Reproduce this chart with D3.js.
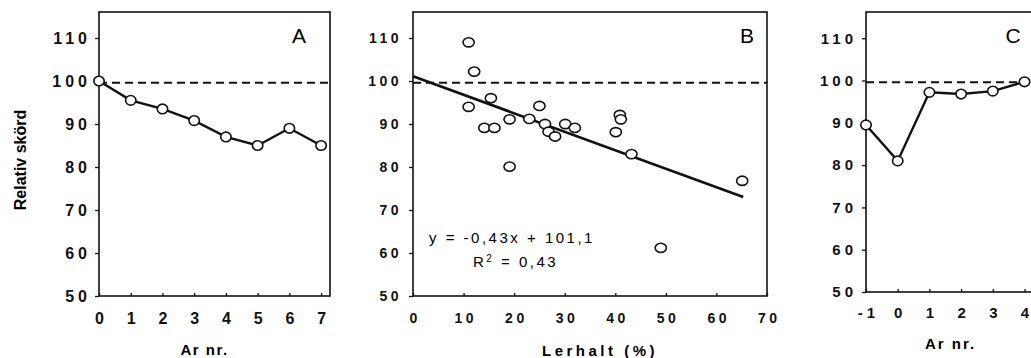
<!DOCTYPE html>
<html>
<head>
<meta charset="utf-8">
<script src="https://cdn.jsdelivr.net/npm/d3@7"></script>
<style>
  body { margin: 0; background: #fff; }
  svg { display: block; font-family: "Liberation Sans", Arial, sans-serif; }
  .tick text { fill: #111; }
</style>
</head>
<body>
<svg id="chart" width="1031" height="358"></svg>
<script>
// Panel A: yield by year
const yearsA = [0, 1, 2, 3, 4, 5, 6, 7];
const yieldA = [100, 95.5, 93.5, 90.8, 87, 85, 89, 85];

// Panel B: yield vs clay content
const clayB = [11, 12.1, 11, 14.1, 15.4, 16.1, 19.1, 19.1, 23, 25, 26.1, 26.8, 28.1, 30.1, 32, 40.1, 40.9, 41.1, 43.2, 49, 65.1];
const yieldB = [109, 102.2, 94, 89.1, 96, 89.1, 91.1, 80.1, 91.2, 94.2, 90, 88.2, 87.1, 90, 89.1, 88.1, 92.1, 91.1, 83, 61.2, 76.8];
const regSlope = -0.43;
const regIntercept = 101.1;
const regRange = [0, 65.3];

// Panel C: yield by year around event
const yearsC = [-1, 0, 1, 2, 3, 4];
const yieldC = [89.5, 81, 97.2, 96.8, 97.5, 99.7];

const yTicks = [50, 60, 70, 80, 90, 100, 110];
const refLine = 99.6;

const svg = d3.select("#chart");

function panel(opt) {
  const x = d3.scaleLinear().domain(opt.xDomain).range([opt.left, opt.right]);
  const y = d3.scaleLinear().domain(opt.yDomain).range([opt.bottom, opt.top]);
  const g = svg.append("g");

  // frame
  g.append("rect")
    .attr("x", opt.left).attr("y", opt.top)
    .attr("width", opt.right - opt.left).attr("height", opt.bottom - opt.top)
    .attr("fill", "none").attr("stroke", "#111").attr("stroke-width", 1.6);

  const yAxis = g.append("g")
    .attr("transform", `translate(${opt.left},0)`)
    .call(d3.axisLeft(y).tickValues(yTicks).tickSize(4).tickPadding(opt.yPad));
  const xAxis = g.append("g")
    .attr("transform", `translate(0,${opt.bottom})`)
    .call(d3.axisBottom(x).tickValues(opt.xTicks).tickFormat(d => String(d))
      .tickSize(-3).tickPadding(opt.xPad));
  [yAxis, xAxis].forEach(a => {
    a.select(".domain").remove();
    a.selectAll("line").attr("stroke", "#111").attr("stroke-width", 1.3);
    a.selectAll("text")
      .attr("font-size", opt.fs)
      .attr("font-weight", "bold")
      .attr("letter-spacing", opt.ls)
      .attr("font-family", "'Liberation Sans', Arial, sans-serif");
  });
  // nudge x labels so letter-spacing doesn't offset centring
  xAxis.selectAll("text").attr("dx", opt.ls / 2);

  // reference line at 100
  g.append("line")
    .attr("x1", opt.left).attr("x2", opt.right)
    .attr("y1", y(refLine)).attr("y2", y(refLine))
    .attr("stroke", "#111").attr("stroke-width", 2)
    .attr("stroke-dasharray", "8,5");

  g.append("text")
    .attr("x", opt.letterX).attr("y", 43)
    .attr("text-anchor", "middle").attr("font-size", 21)
    .text(opt.letter);

  g.append("text")
    .attr("x", (opt.left + Math.min(opt.right, 1031)) / 2 + opt.titleDx).attr("y", opt.titleY)
    .attr("text-anchor", "middle").attr("font-size", opt.titleFs)
    .attr("font-weight", "bold").attr("letter-spacing", opt.titleLs)
    .text(opt.title);

  return { g, x, y };
}

function lineSeries(p, xs, ys) {
  const pts = xs.map((d, i) => [d, ys[i]]);
  p.g.append("path")
    .datum(pts)
    .attr("fill", "none").attr("stroke", "#111").attr("stroke-width", 2.4)
    .attr("d", d3.line().x(d => p.x(d[0])).y(d => p.y(d[1])));
  p.g.selectAll(".pt").data(pts).enter().append("ellipse")
    .attr("cx", d => p.x(d[0])).attr("cy", d => p.y(d[1]))
    .attr("rx", 5.2).attr("ry", 4.8)
    .attr("fill", "#fff").attr("stroke", "#111").attr("stroke-width", 1.6);
}

// A
const pA = panel({
  left: 99, right: 330, top: 12, bottom: 296,
  xDomain: [0, 7.28], yDomain: [50, 116.05], xTicks: yearsA,
  fs: 16, ls: 4, yPad: 4, xPad: 17,
  letter: "A", letterX: 299,
  title: "Ar nr.", titleY: 355, titleFs: 15, titleLs: 1.5, titleDx: -10
});
lineSeries(pA, yearsA, yieldA);

svg.append("text")
  .attr("transform", "translate(26,160) rotate(-90)")
  .attr("text-anchor", "middle").attr("font-size", 16).attr("font-weight", "bold")
  .text("Relativ skörd");

// B
const pB = panel({
  left: 413, right: 767, top: 12, bottom: 296,
  xDomain: [0, 70], yDomain: [50, 116.05], xTicks: d3.range(0, 71, 10),
  fs: 14, ls: 3.5, yPad: 7, xPad: 17,
  letter: "B", letterX: 747,
  title: "Lerhalt (%)", titleY: 356, titleFs: 15, titleLs: 3.5, titleDx: 10
});
pB.g.append("line")
  .attr("x1", pB.x(regRange[0])).attr("y1", pB.y(regSlope * regRange[0] + regIntercept))
  .attr("x2", pB.x(regRange[1])).attr("y2", pB.y(regSlope * regRange[1] + regIntercept))
  .attr("stroke", "#111").attr("stroke-width", 2.6);
pB.g.selectAll(".pt").data(clayB).enter().append("ellipse")
  .attr("cx", d => pB.x(d)).attr("cy", (d, i) => pB.y(yieldB[i]))
  .attr("rx", 5.6).attr("ry", 4.6)
  .attr("fill", "#fff").attr("stroke", "#111").attr("stroke-width", 1.6);
pB.g.append("text")
  .attr("x", 429).attr("y", 243).attr("font-size", 15).attr("letter-spacing", 2.5)
  .text("y = -0,43x + 101,1");
const r2 = pB.g.append("text")
  .attr("x", 473).attr("y", 267).attr("font-size", 15).attr("letter-spacing", 2.5);
r2.append("tspan").text("R");
r2.append("tspan").attr("dy", -5).attr("font-size", 10).text("2");
r2.append("tspan").attr("dy", 5).text(" = 0,43");

// C
const pC = panel({
  left: 866, right: 1035, top: 12, bottom: 292,
  xDomain: [-1, 4.33], yDomain: [50, 116.2], xTicks: yearsC,
  fs: 15, ls: 4, yPad: 5, xPad: 15,
  letter: "C", letterX: 1013,
  title: "Ar nr.", titleY: 349, titleFs: 15, titleLs: 2, titleDx: 2
});
lineSeries(pC, yearsC, yieldC);
</script>
</body>
</html>
